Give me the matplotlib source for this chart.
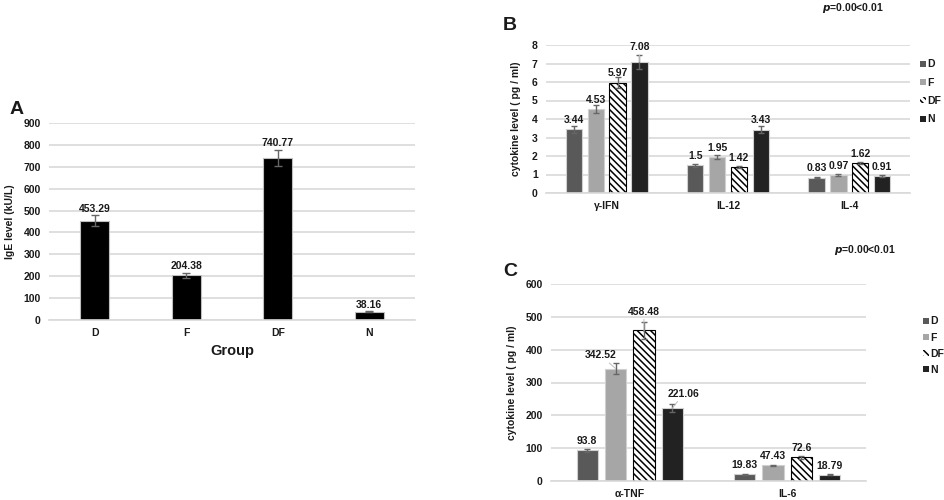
import numpy as np
import matplotlib
matplotlib.use("Agg")
import matplotlib.pyplot as plt
from matplotlib.patches import Patch

plt.rcParams['font.family'] = ['Liberation Sans', 'DejaVu Sans']
plt.rcParams['font.weight'] = 'bold'
plt.rcParams['axes.labelweight'] = 'bold'
plt.rcParams['hatch.linewidth'] = 1.1

# panel A data
groups_a = ['D', 'F', 'DF', 'N']
ige = [453.29, 204.38, 740.77, 38.16]
ige_err = [25, 12, 38, 3]

# panel B data
cyto_b = ['γ-IFN', 'IL-12', 'IL-4']
b_D = [3.44, 1.5, 0.83]
b_F = [4.53, 1.95, 0.97]
b_DF = [5.97, 1.42, 1.62]
b_N = [7.08, 3.43, 0.91]
b_D_err = [0.18, 0.09, 0.03]
b_F_err = [0.22, 0.12, 0.05]
b_DF_err = [0.3, 0.06, 0.07]
b_N_err = [0.4, 0.18, 0.05]

# panel C data
cyto_c = ['α-TNF', 'IL-6']
c_D = [93.8, 19.83]
c_F = [342.52, 47.43]
c_DF = [458.48, 72.6]
c_N = [221.06, 18.79]
c_D_err = [5, 2]
c_F_err = [18, 2]
c_DF_err = [25, 5]
c_N_err = [12, 2]

series_names = ['D', 'F', 'DF', 'N']
txt = '#1a1a1a'
grid_c = '#d9d9d9'
styles = [dict(color='#595959', edgecolor='#d0d0d0'),
          dict(color='#a6a6a6', edgecolor='#d0d0d0'),
          dict(color='white', hatch='\\\\\\\\\\', edgecolor='black'),
          dict(color='#222222', edgecolor='#d0d0d0')]

W, H = 945, 500
fig = plt.figure(figsize=(9.45, 5), dpi=100)


def px_axes(x0, y0, x1, y1):
    return fig.add_axes([x0 / W, 1 - y1 / H, (x1 - x0) / W, (y1 - y0) / H])


def style_axes(ax, ymax, step):
    ax.set_ylim(0, ymax)
    ax.set_yticks(np.arange(0, ymax + step / 2, step))
    ax.grid(axis='y', color=grid_c, linewidth=1.2)
    ax.set_axisbelow(True)
    for s in ['top', 'right', 'left']:
        ax.spines[s].set_visible(False)
    ax.spines['bottom'].set_color(grid_c)
    ax.spines['bottom'].set_linewidth(1.2)
    ax.tick_params(length=0, labelsize=7.5, labelcolor=txt, pad=6)
    for lab in ax.get_xticklabels() + ax.get_yticklabels():
        lab.set_fontweight('bold')


# ---- A ----
axA = px_axes(49, 123, 415, 320)
xa = np.arange(len(groups_a))
axA.bar(xa, ige, width=0.32, color='black', edgecolor='#bfbfbf', linewidth=0.8,
        yerr=ige_err, error_kw=dict(ecolor='#666666', capsize=3, elinewidth=1))
for x, v, e in zip(xa, ige, ige_err):
    axA.annotate(f'{v:.2f}', (x, v + e), xytext=(0, 1), textcoords='offset points',
                 ha='center', va='bottom', fontsize=7.5, color=txt, fontweight='bold')
axA.set_xlim(-0.5, 3.5)
axA.set_xticks(xa, groups_a)
style_axes(axA, 900, 100)
axA.set_xlabel('Group', fontsize=10.5, color=txt, labelpad=4)
axA.set_ylabel('IgE level (kU/L)', fontsize=7.5, color=txt, labelpad=6)
fig.text(10 / W, 1 - 109 / H, 'A', fontsize=14, color=txt, va='center', fontweight='bold')


def grouped(ax, cats, vals, errs, width, step, fmt_off):
    x = np.arange(len(cats))
    for i, (v, e, st) in enumerate(zip(vals, errs, styles)):
        pos = x + (i - 1.5) * step
        ax.bar(pos, v, width=width, linewidth=0.8, yerr=e,
               error_kw=dict(ecolor='#666666', capsize=2.5, elinewidth=1), **st)
        for j, (p, val) in enumerate(zip(pos, v)):
            off = fmt_off.get((i, j), None)
            label = f'{val:g}'
            if off is None:
                ax.annotate(label, (p, val), xytext=(0, 3), textcoords='offset points',
                            ha='center', va='bottom', fontsize=7.5, color=txt,
                            fontweight='bold')
            else:
                ax.annotate(label, (p, val), xytext=off, textcoords='offset points',
                            ha='center', va='bottom', fontsize=7.5, color=txt,
                            fontweight='bold',
                            arrowprops=dict(arrowstyle='-', color='#bfbfbf', lw=0.7,
                                            shrinkA=0, shrinkB=0))
    ax.set_xticks(x, cats)
    ax.set_xlim(-0.5, len(cats) - 0.5)


def legend_handles():
    return [Patch(facecolor=st['color'], hatch=st.get('hatch'),
                  edgecolor=st['edgecolor'] if 'hatch' in st else 'none',
                  linewidth=0, label=n) for st, n in zip(styles, series_names)]


# ---- B ----
axB = px_axes(546, 45, 910, 193)
grouped(axB, cyto_b, [b_D, b_F, b_DF, b_N], [b_D_err, b_F_err, b_DF_err, b_N_err],
        0.135, 0.18, {(3, 0): (0, 7)})
style_axes(axB, 8, 1)
axB.set_ylabel('cytokine level ( pg / ml)', fontsize=7.5, color=txt, labelpad=8)
fig.text(503 / W, 1 - 26 / H, 'B', fontsize=14, color=txt, va='center', fontweight='bold')
fig.text(853 / W, 1 - 8 / H, r'$\bf{\it{p}}$=0.00<0.01', fontsize=7.5, color=txt,
         ha='center', va='center', fontweight='bold')
fig.legend(handles=legend_handles(),
           loc='upper left', bbox_to_anchor=(911 / W, 1 - 50 / H), frameon=False,
           handlelength=0.5, handleheight=0.5, handletextpad=0.2,
           labelspacing=0.8, labelcolor=txt, prop=dict(weight='bold', size=7.5))

# ---- C ----
axC = px_axes(551, 284, 866, 481)
grouped(axC, cyto_c, [c_D, c_F, c_DF, c_N], [c_D_err, c_F_err, c_DF_err, c_N_err],
        0.135, 0.18, {(1, 0): (-11, 6), (2, 0): (0, 10), (3, 0): (8, 7)})
style_axes(axC, 600, 100)
axC.set_ylabel('cytokine level ( pg / ml)', fontsize=7.5, color=txt, labelpad=6)
fig.text(503 / W, 1 - 272 / H, 'C', fontsize=14, color=txt, va='center', fontweight='bold')
fig.text(865 / W, 1 - 250 / H, r'$\bf{\it{p}}$=0.00<0.01', fontsize=7.5, color=txt,
         ha='center', va='center', fontweight='bold')
fig.legend(handles=legend_handles(),
           loc='upper left', bbox_to_anchor=(914 / W, 1 - 307 / H), frameon=False,
           handlelength=0.5, handleheight=0.5, handletextpad=0.2,
           labelspacing=0.6, labelcolor=txt, prop=dict(weight='bold', size=7.5))

fig.savefig('out.png', dpi=100)
